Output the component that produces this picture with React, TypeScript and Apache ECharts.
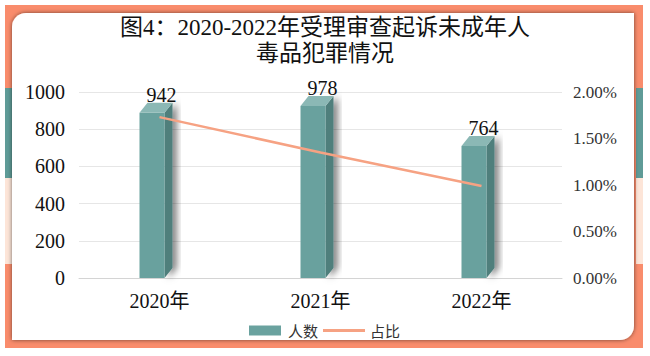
import React, { useEffect, useRef } from "react";
import * as echarts from "echarts";

const categories = ["2020年", "2021年", "2022年"];
const counts = [942, 978, 764];
const ratios = [0.0173, 0.0135, 0.0099];
const titleText = "图4：2020-2022年受理审查起诉未成年人\n毒品犯罪情况";
const seriesNames = ["人数", "占比"];

const SERIF = "'Liberation Serif', 'Times New Roman', 'Noto Sans CJK SC', serif";
const CJK = "'Noto Sans CJK SC', sans-serif";

export default function App() {
  const ref = useRef<HTMLDivElement>(null);
  useEffect(() => {
    if (!ref.current) return;
    const chart = echarts.init(ref.current, null, { renderer: "svg" });
    const orange = "#F98C6C";
    const teal = "#5F9B97";
    const peach = "#FDE5D8";
    const lineColor = "#F6A283";
    chart.setOption({
      animation: false,
      backgroundColor: "#ffffff",
      graphic: [
        { type: "rect", z: -1, shape: { x: 5, y: 5, width: 638, height: 343 }, style: { fill: orange } },
        { type: "rect", z: -1, shape: { x: 5, y: 88, width: 7, height: 90 }, style: { fill: teal } },
        { type: "rect", z: -1, shape: { x: 5, y: 178, width: 7, height: 86 }, style: { fill: peach } },
        { type: "rect", z: -1, shape: { x: 636, y: 88, width: 7, height: 90 }, style: { fill: teal } },
        { type: "rect", z: -1, shape: { x: 636, y: 178, width: 7, height: 86 }, style: { fill: peach } },
        {
          type: "rect",
          z: -1,
          shape: { x: 12, y: 13, width: 622, height: 327, r: [14, 0, 14, 0] },
          style: { fill: "#ffffff", shadowBlur: 4, shadowColor: "rgba(0,0,0,0.55)" },
        },
      ],
      title: {
        text: titleText,
        left: "center",
        top: 9,
        textStyle: { fontFamily: SERIF, fontSize: 23, fontWeight: "normal", color: "#111", lineHeight: 26 },
      },
      legend: [
        {
          data: [{ name: seriesNames[0], icon: "rect" }],
          left: 244,
          top: 318,
          itemWidth: 32,
          itemHeight: 10,
          itemGap: 4,
          textStyle: { fontFamily: CJK, fontSize: 15, color: "#333", padding: [0, 0, 0, 2] },
        },
        {
          data: [{ name: seriesNames[1], icon: "rect", itemStyle: { color: lineColor } }],
          left: 318,
          top: 318,
          itemWidth: 42,
          itemHeight: 3,
          itemGap: 4,
          textStyle: { fontFamily: CJK, fontSize: 15, color: "#333", padding: [0, 0, 0, 0] },
        },
      ],
      grid: { left: 79, right: 88, top: 92, bottom: 78 },
      xAxis: {
        type: "category",
        data: categories,
        axisLine: { show: true, lineStyle: { color: "#d4d4d4" } },
        axisTick: { show: false },
        axisLabel: { fontFamily: SERIF, fontSize: 20, color: "#111", margin: 13 },
      },
      yAxis: [
        {
          type: "value",
          min: 0,
          max: 1000,
          interval: 200,
          axisLine: { show: false },
          axisTick: { show: false },
          splitLine: { lineStyle: { color: "#e6e6e6" } },
          axisLabel: {
            fontFamily: SERIF,
            fontSize: 20,
            color: "#111",
            margin: 14,
            formatter: (v: number) => String(v),
          },
        },
        {
          type: "value",
          min: 0,
          max: 0.02,
          interval: 0.005,
          axisLine: { show: false },
          axisTick: { show: false },
          splitLine: { show: false },
          axisLabel: {
            fontFamily: SERIF,
            fontSize: 17,
            color: "#333",
            margin: 11,
            formatter: (v: number) => (v * 100).toFixed(2) + "%",
          },
        },
      ],
      series: [
        {
          name: seriesNames[0],
          type: "custom",
          yAxisIndex: 0,
          itemStyle: { color: "#6AA29F" },
          encode: { x: 0, y: 1 },
          data: counts.map((v, i) => [i, v]),
          z: 2,
          renderItem: (params: any, api: any) => {
            const idx = api.value(0);
            const val = api.value(1);
            const top = api.coord([idx, val]);
            const base = api.coord([idx, 0]);
            const cx = top[0];
            const fl = cx - 20;
            const fr = cx + 5;
            const dx = 8;
            const dy = 10;
            const yb = top[1];
            const ft = yb + dy;
            const y0 = base[1];
            return {
              type: "group",
              children: [
                {
                  type: "polygon",
                  shape: { points: [[fr, ft], [fr + dx, yb], [fr + dx, y0 - dy], [fr, y0]] },
                  style: { fill: "#4F7F7C", shadowBlur: 7, shadowOffsetX: 4, shadowOffsetY: 0, shadowColor: "rgba(0,0,0,0.55)" },
                },
                {
                  type: "rect",
                  shape: { x: fl, y: ft, width: fr - fl, height: y0 - ft },
                  style: { fill: "#69A19E" },
                },
                {
                  type: "polygon",
                  shape: { points: [[fl, ft], [fr, ft], [fr + dx, yb], [fl + dx, yb]] },
                  style: { fill: "#8BB8B5" },
                },
                {
                  type: "text",
                  x: cx + 2,
                  y: yb + 2,
                  style: {
                    text: String(val),
                    fontFamily: SERIF,
                    fontSize: 20,
                    fill: "#111",
                    align: "center",
                    verticalAlign: "bottom",
                  },
                },
              ],
            };
          },
        },
        {
          name: seriesNames[1],
          type: "line",
          yAxisIndex: 1,
          data: ratios,
          symbol: "none",
          z: 5,
          lineStyle: { color: lineColor, width: 2.5 },
          itemStyle: { color: lineColor },
        },
      ],
    });
    return () => chart.dispose();
  }, []);
  return (
    <div
      ref={ref}
      style={{ position: "fixed", left: 0, top: 0, width: 650, height: 356 }}
    />
  );
}
